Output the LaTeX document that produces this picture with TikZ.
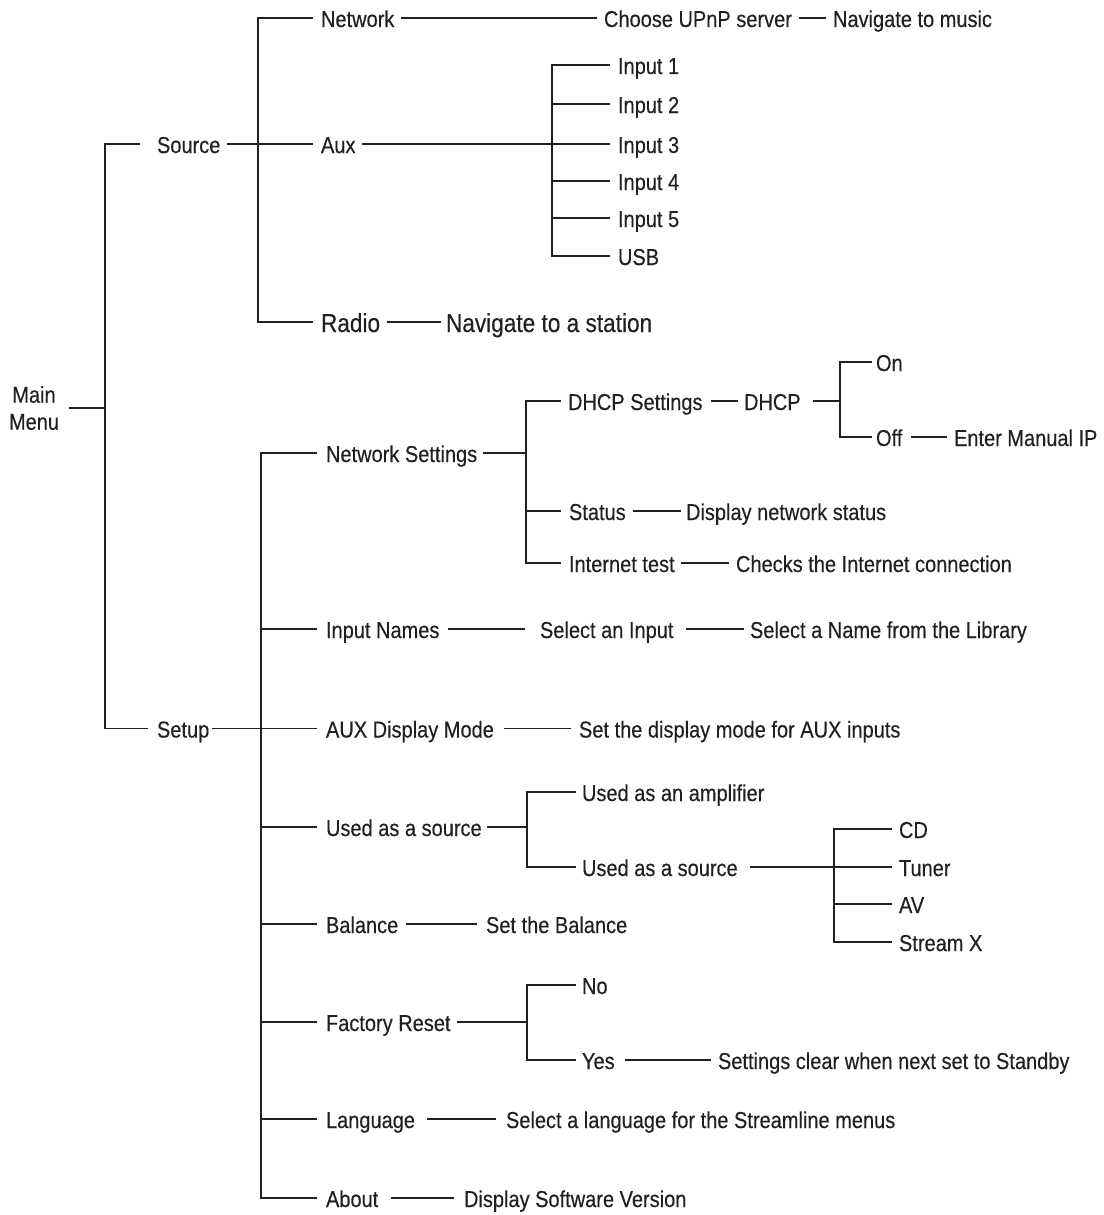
\documentclass[tikz,border=0pt]{standalone}
\usepackage{fontspec}
\setmainfont{Liberation Sans}[FakeStretch=0.87,FakeBold=0.3]
\definecolor{ink}{HTML}{231F20}
\newcommand\link[4]{\draw[wire] ([xshift=#3]#1.east) -- ([xshift=-#4]#2.west);}
\begin{document}
\begin{tikzpicture}[x=1pt,y=-1pt,
  lbl/.style={anchor=west,inner sep=0pt,outer sep=0pt,text=ink,font=\fontsize{23}{27}\selectfont,text height=18pt,text depth=0pt},
  big/.style={font=\fontsize{26}{30}\selectfont,text height=20pt},
  wire/.style={draw=ink,line width=1.4pt}]
\useasboundingbox (0,0) rectangle (1103,1215);

% bus coordinates
\coordinate (b0) at (105,0);
\coordinate (b1) at (258,0);
\coordinate (b2) at (552,0);
\coordinate (b3) at (261,0);
\coordinate (b4) at (526,0);
\coordinate (b5) at (840,0);
\coordinate (b6) at (527,0);
\coordinate (b7) at (834,0);
\coordinate (b8) at (527,0);

% nodes
\node[anchor=center,inner sep=0pt,text=ink,font=\fontsize{23}{27}\selectfont,align=center] (main) at (34,408) {Main\\Menu};
\node[lbl] (src) at (157,144) {Source};
\node[lbl] (setup) at (157,728.5) {Setup};
\node[lbl] (net) at (321,18) {Network};
\node[lbl] (aux) at (321,144) {Aux};
\node[lbl,big] (radio) at (321,322) {Radio};
\node[lbl] (upnp) at (604,18) {Choose UPnP server};
\node[lbl] (music) at (833,18) {Navigate to music};
\node[lbl] (in1) at (618,65) {Input 1};
\node[lbl] (in2) at (618,104) {Input 2};
\node[lbl] (in3) at (618,144) {Input 3};
\node[lbl] (in4) at (618,181) {Input 4};
\node[lbl] (in5) at (618,218) {Input 5};
\node[lbl] (usb) at (618,256) {USB};
\node[lbl,big] (station) at (446,322) {Navigate to a station};
\node[lbl] (netset) at (326,453) {Network Settings};
\node[lbl] (dhcpset) at (568,401) {DHCP Settings};
\node[lbl] (dhcp) at (744,401) {DHCP};
\node[lbl] (on) at (876,362) {On};
\node[lbl] (off) at (876,437) {Off};
\node[lbl] (manip) at (954,437) {Enter Manual IP};
\node[lbl] (status) at (569,511) {Status};
\node[lbl] (dispnet) at (686,511) {Display network status};
\node[lbl] (itest) at (569,563) {Internet test};
\node[lbl] (checks) at (736,563) {Checks the Internet connection};
\node[lbl] (inames) at (326,629) {Input Names};
\node[lbl] (selin) at (540,629) {Select an Input};
\node[lbl] (selname) at (750,629) {Select a Name from the Library};
\node[lbl] (auxmode) at (326,728.5) {AUX Display Mode};
\node[lbl] (setdisp) at (579,728.5) {Set the display mode for AUX inputs};
\node[lbl] (used) at (326,827) {Used as a source};
\node[lbl] (amp) at (582,792) {Used as an amplifier};
\node[lbl] (used2) at (582,867) {Used as a source};
\node[lbl] (cd) at (899,829) {CD};
\node[lbl] (tuner) at (899,867) {Tuner};
\node[lbl] (av) at (899,904) {AV};
\node[lbl] (streamx) at (899,942) {Stream X};
\node[lbl] (bal) at (326,924) {Balance};
\node[lbl] (setbal) at (486,924) {Set the Balance};
\node[lbl] (freset) at (326,1022) {Factory Reset};
\node[lbl] (no) at (582,985) {No};
\node[lbl] (yes) at (582,1060) {Yes};
\node[lbl] (clear) at (718,1060) {Settings clear when next set to Standby};
\node[lbl] (lang) at (326,1119) {Language};
\node[lbl] (sellang) at (506,1119) {Select a language for the Streamline menus};
\node[lbl] (about) at (326,1198) {About};
\node[lbl] (dispsw) at (464,1198) {Display Software Version};

% main level
\draw[wire] ([xshift=10pt]main.east) -- (b0 |- main.east);
\draw[wire] ([xshift=-17pt]src.west) -- (b0 |- src.west) -- (b0 |- setup.west) -- ([xshift=-9pt]setup.west);

% source branch
\draw[wire] ([xshift=-8pt]net.west) -- (b1 |- net.west) -- (b1 |- radio.west) -- ([xshift=-8pt]radio.west);
\link{src}{aux}{7pt}{8pt}
\link{net}{upnp}{7pt}{7pt}
\link{upnp}{music}{7pt}{7pt}
\link{radio}{station}{7pt}{5pt}
\draw[wire] ([xshift=-8pt]in1.west) -- (b2 |- in1.west) -- (b2 |- usb.west) -- ([xshift=-8pt]usb.west);
\draw[wire] ([xshift=7pt]aux.east) -- ([xshift=-8pt]in3.west);
\foreach \n in {in2,in4,in5} \draw[wire] (b2 |- \n.west) -- ([xshift=-8pt]\n.west);

% setup branch
\draw[wire] ([xshift=-9pt]netset.west) -- (b3 |- netset.west) -- (b3 |- about.west) -- ([xshift=-9pt]about.west);
\link{setup}{auxmode}{3pt}{9pt}
\foreach \n in {inames,used,bal,freset,lang} \draw[wire] (b3 |- \n.west) -- ([xshift=-9pt]\n.west);

% network settings
\draw[wire] ([xshift=-7pt]dhcpset.west) -- (b4 |- dhcpset.west) -- (b4 |- itest.west) -- ([xshift=-8pt]itest.west);
\draw[wire] (b4 |- status.west) -- ([xshift=-8pt]status.west);
\draw[wire] ([xshift=6pt]netset.east) -- (b4 |- netset.east);
\link{dhcpset}{dhcp}{8pt}{6pt}
\draw[wire] ([xshift=12pt]dhcp.east) -- (b5 |- dhcp.east);
\draw[wire] ([xshift=-4pt]on.west) -- (b5 |- on.west) -- (b5 |- off.west) -- ([xshift=-4pt]off.west);
\link{off}{manip}{9pt}{7pt}
\link{status}{dispnet}{7pt}{5pt}
\link{itest}{checks}{6pt}{7pt}

% other setup items
\link{inames}{selin}{9pt}{15pt}
\link{selin}{selname}{12pt}{6pt}
\link{auxmode}{setdisp}{10pt}{8pt}
\draw[wire] ([xshift=5pt]used.east) -- (b6 |- used.east);
\draw[wire] ([xshift=-6pt]amp.west) -- (b6 |- amp.west) -- (b6 |- used2.west) -- ([xshift=-6pt]used2.west);
\draw[wire] ([xshift=-7pt]cd.west) -- (b7 |- cd.west) -- (b7 |- streamx.west) -- ([xshift=-7pt]streamx.west);
\link{used2}{tuner}{12pt}{7pt}
\draw[wire] (b7 |- av.west) -- ([xshift=-7pt]av.west);
\link{bal}{setbal}{8pt}{9pt}
\draw[wire] ([xshift=6pt]freset.east) -- (b8 |- freset.east);
\draw[wire] ([xshift=-6pt]no.west) -- (b8 |- no.west) -- (b8 |- yes.west) -- ([xshift=-6pt]yes.west);
\link{yes}{clear}{10pt}{7pt}
\link{lang}{sellang}{12pt}{10pt}
\link{about}{dispsw}{13pt}{10pt}
\end{tikzpicture}
\end{document}
